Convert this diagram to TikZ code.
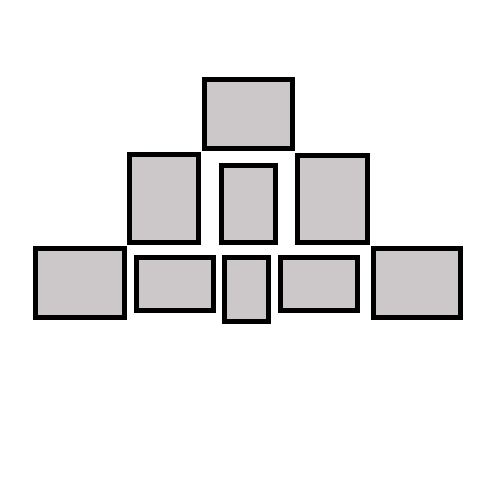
\documentclass[tikz,border=0pt]{standalone}
\definecolor{photo}{RGB}{204,200,202}
\begin{document}
\begin{tikzpicture}[x=1pt,y=-1pt,
  frame/.style={draw=black,line width=4.6pt,fill=photo,inner sep=0pt,outer sep=0pt,rectangle}]
\fill[white] (0,0) rectangle (500,500);
\useasboundingbox (0,0) rectangle (500,500);
\node[frame,minimum width=88.4pt,minimum height=69.4pt] (top) at (248.5,114) {};
\node[frame,minimum width=69.4pt,minimum height=88.4pt] (ml) at (164,198.5) {};
\node[frame,minimum width=54.4pt,minimum height=77.4pt] (mc) at (248.5,204) {};
\node[frame,minimum width=70.4pt,minimum height=87.4pt] (mr) at (332.5,199) {};
\node[frame,minimum width=89.4pt,minimum height=69.4pt] (bl) at (80,283) {};
\node[frame,minimum width=77.4pt,minimum height=53.4pt] (b2) at (175,284) {};
\node[frame,minimum width=44.4pt,minimum height=64.4pt] (bc) at (246.5,289.5) {};
\node[frame,minimum width=77.4pt,minimum height=53.4pt] (b4) at (319,284) {};
\node[frame,minimum width=87.4pt,minimum height=69.4pt] (br) at (417,283) {};
\end{tikzpicture}
\end{document}
